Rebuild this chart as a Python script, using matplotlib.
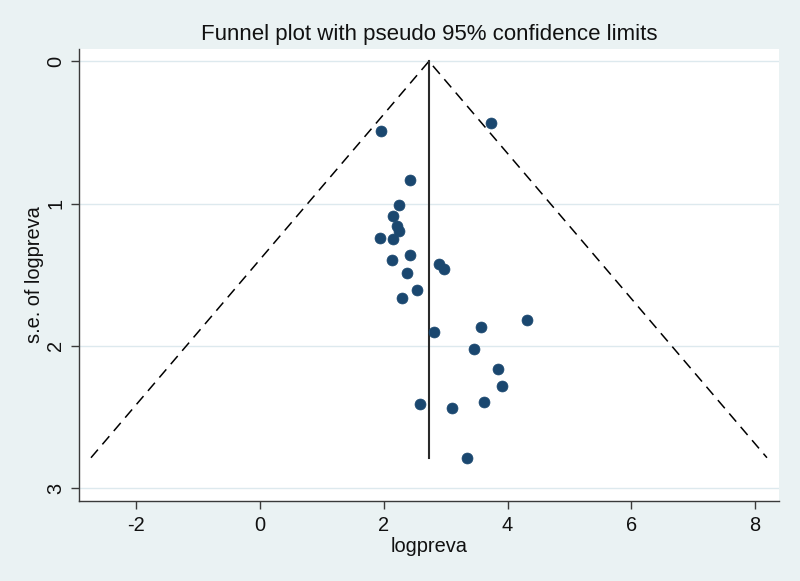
import matplotlib
matplotlib.use("Agg")
import matplotlib.pyplot as plt
import numpy as np

plt.rcParams['font.family'] = ['Liberation Sans', 'DejaVu Sans']
plt.rcParams['axes.unicode_minus'] = False

# Study estimates (logpreva) and their standard errors
logpreva = [1.955, 3.727, 2.418, 2.241, 2.149, 2.218, 2.250, 1.943, 2.149, 2.428,
            2.137, 2.887, 2.968, 2.375, 2.531, 2.289, 4.309, 2.811, 3.565, 3.452,
            3.850, 3.909, 2.585, 3.097, 3.614, 3.349]
se_logpreva = [0.487, 0.435, 0.833, 1.009, 1.087, 1.157, 1.190, 1.243, 1.250, 1.363,
               1.398, 1.424, 1.459, 1.489, 1.605, 1.663, 1.818, 1.900, 1.865, 2.024,
               2.162, 2.282, 2.406, 2.437, 2.395, 2.786]
pooled = 2.73
z95 = 1.96
xticks = [-2, 0, 2, 4, 6, 8]
yticks = [0, 1, 2, 3]

BG = '#EAF2F3'
NAVY = '#1A476F'
AXC = '#3a3a3a'

fig = plt.figure(figsize=(8, 5.81), dpi=100, facecolor=BG)
ax = fig.add_axes([79/800, 1-501/581, 700/800, 452/581])
ax.set_facecolor('white')

se_max = max(se_logpreva)
# funnel
ax.plot([pooled - z95*se_max, pooled, pooled + z95*se_max], [se_max, 0, se_max],
        color='black', lw=1.1, dashes=(7, 4.5), zorder=2)
ax.plot([pooled, pooled], [0, se_max], color='#2a2a2a', lw=1.5, zorder=2)
ax.scatter(logpreva, se_logpreva, s=62, color=NAVY, edgecolors=NAVY, linewidths=0.5, zorder=3)

ax.set_xlim(-2.924, 8.385)
ax.set_ylim(3.09, -0.086)
ax.set_xticks(xticks)
ax.set_yticks(yticks)
ax.grid(axis='y', color='#DDE9EE', lw=1.0)
ax.set_axisbelow(True)
for s in ['top', 'right']:
    ax.spines[s].set_visible(False)
for s in ['left', 'bottom']:
    ax.spines[s].set_color(AXC)
    ax.spines[s].set_linewidth(1.0)
ax.tick_params(axis='both', length=5.8, width=1.0, color=AXC, labelsize=14.4, labelcolor='#111111')
ax.tick_params(axis='x', pad=5)
ax.tick_params(axis='y', pad=4)
for lab in ax.get_yticklabels():
    lab.set_rotation(90)
    lab.set_va('center')

fig.text(429/800, 1-40/581, 'Funnel plot with pseudo 95% confidence limits',
         ha='center', va='baseline', fontsize=16, color='#111111')
fig.text(429/800, 1-552/581, 'logpreva', ha='center', va='baseline', fontsize=14.4, color='#111111')
fig.text(35/800, 1-275/581, 's.e. of logpreva', ha='center', va='center', rotation=90,
         fontsize=14.4, color='#111111')

fig.savefig('out.png', dpi=100, facecolor=BG)
